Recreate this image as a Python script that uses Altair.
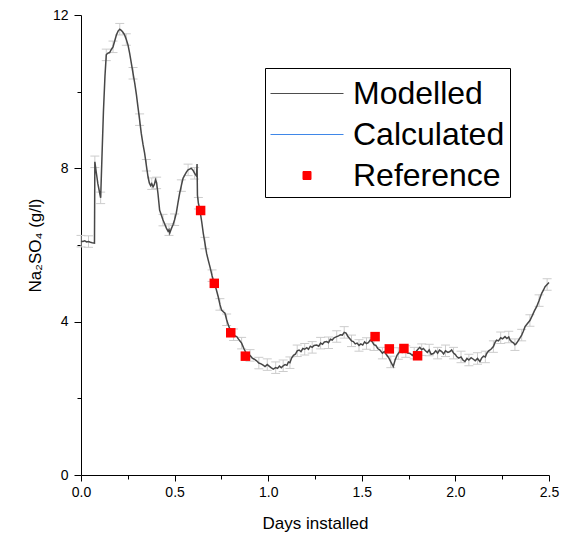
import altair as alt
import pandas as pd

# ---- data ----
model_days = [
    0.000, 0.010, 0.020, 0.030, 0.040, 0.050, 0.060, 0.072, 0.074, 0.080,
    0.090, 0.100, 0.105, 0.112, 0.120, 0.128, 0.135, 0.142, 0.153, 0.162,
    0.171, 0.180, 0.189, 0.198, 0.207, 0.215, 0.224, 0.233, 0.242, 0.251,
    0.260, 0.269, 0.278, 0.287, 0.296, 0.304, 0.313, 0.322, 0.331, 0.340,
    0.349, 0.358, 0.365, 0.372, 0.378, 0.385, 0.392, 0.398, 0.404, 0.411,
    0.420, 0.429, 0.438, 0.447, 0.456, 0.465, 0.470, 0.474, 0.482, 0.491,
    0.500, 0.509, 0.518, 0.527, 0.536, 0.545, 0.554, 0.563, 0.572, 0.580,
    0.589, 0.598, 0.607, 0.617, 0.620, 0.622, 0.627, 0.634, 0.645, 0.653,
    0.662, 0.671, 0.680, 0.689, 0.700, 0.712, 0.722, 0.733, 0.742, 0.751,
    0.760, 0.769, 0.778, 0.787, 0.796, 0.805, 0.815, 0.825, 0.832, 0.845,
    0.858, 0.870, 0.880, 0.892, 0.903, 0.915, 0.926, 0.938, 0.950, 0.962,
    0.975, 0.983, 0.995, 1.005, 1.015, 1.027, 1.040, 1.050, 1.060, 1.070,
    1.080, 1.090, 1.100, 1.108, 1.116, 1.125, 1.135, 1.145, 1.155, 1.165,
    1.175, 1.185, 1.195, 1.206, 1.215, 1.225, 1.235, 1.245, 1.259, 1.270,
    1.280, 1.290, 1.300, 1.312, 1.322, 1.332, 1.342, 1.352, 1.366, 1.376,
    1.386, 1.396, 1.406, 1.416, 1.425, 1.435, 1.445, 1.455, 1.465, 1.475,
    1.485, 1.495, 1.505, 1.515, 1.525, 1.535, 1.545, 1.555, 1.565, 1.575,
    1.585, 1.597, 1.610, 1.620, 1.633, 1.645, 1.655, 1.668, 1.678, 1.688,
    1.695, 1.705, 1.715, 1.725, 1.735, 1.745, 1.758, 1.770, 1.780, 1.790,
    1.800, 1.810, 1.820, 1.829, 1.840, 1.850, 1.860, 1.870, 1.883, 1.895,
    1.905, 1.915, 1.927, 1.937, 1.947, 1.960, 1.971, 1.980, 1.990, 2.000,
    2.007, 2.018, 2.030, 2.040, 2.051, 2.062, 2.072, 2.084, 2.096, 2.106,
    2.118, 2.131, 2.140, 2.150, 2.160, 2.167, 2.178, 2.190, 2.203, 2.212,
    2.220, 2.230, 2.242, 2.252, 2.265, 2.275, 2.285, 2.292, 2.300, 2.310,
    2.318, 2.324, 2.335, 2.345, 2.354, 2.363, 2.372, 2.385, 2.398, 2.410,
    2.422, 2.434, 2.447, 2.461, 2.470, 2.479, 2.490, 2.500,
]
model_values = [
    6.10, 6.09, 6.11, 6.08, 6.09, 6.07, 6.06, 6.05, 8.17, 7.95,
    7.60, 7.35, 7.23, 8.30, 9.50, 10.40, 10.96, 11.00, 11.02, 11.10,
    11.17, 11.32, 11.48, 11.58, 11.63, 11.60, 11.55, 11.48, 11.36, 11.22,
    11.00, 10.74, 10.48, 10.22, 9.92, 9.61, 9.27, 8.91, 8.63, 8.39,
    8.08, 7.78, 7.62, 7.55, 7.60, 7.52, 7.58, 7.70, 7.62, 7.35,
    6.91, 6.78, 6.65, 6.55, 6.44, 6.36, 6.40, 6.31, 6.42, 6.52,
    6.66, 6.83, 7.10, 7.35, 7.55, 7.74, 7.82, 7.90, 7.96, 7.98,
    8.00, 7.95, 7.87, 7.80, 8.11, 7.30, 7.09, 6.95, 6.60, 6.31,
    6.05, 5.78, 5.60, 5.43, 5.20, 5.00, 4.85, 4.65, 4.45, 4.30,
    4.26, 4.22, 4.05, 3.91, 3.80, 3.72, 3.66, 3.62, 3.61, 3.52,
    3.44, 3.30, 3.20, 3.14, 3.12, 3.05, 3.02, 2.98, 2.92, 2.90,
    2.86, 2.83, 2.88, 2.84, 2.80, 2.76, 2.80, 2.78, 2.84, 2.80,
    2.85, 2.88, 2.86, 2.95, 2.93, 3.05, 3.12, 3.15, 3.24, 3.26,
    3.22, 3.30, 3.28, 3.32, 3.28, 3.36, 3.33, 3.38, 3.39, 3.36,
    3.44, 3.41, 3.47, 3.48, 3.45, 3.54, 3.52, 3.58, 3.61, 3.63,
    3.66, 3.65, 3.72, 3.70, 3.62, 3.56, 3.50, 3.48, 3.42, 3.44,
    3.38, 3.42, 3.39, 3.47, 3.43, 3.45, 3.52, 3.48, 3.40, 3.38,
    3.30, 3.26, 3.18, 3.22, 3.13, 3.05, 2.95, 2.83, 3.00, 3.12,
    3.17, 3.24, 3.20, 3.28, 3.22, 3.18, 3.17, 3.12, 3.18, 3.22,
    3.28, 3.33, 3.27, 3.30, 3.24, 3.20, 3.26, 3.15, 3.17, 3.24,
    3.18, 3.26, 3.22, 3.16, 3.24, 3.20, 3.22, 3.26, 3.18, 3.14,
    3.09, 3.05, 3.08, 3.00, 2.96, 3.04, 3.00, 3.06, 3.02, 2.98,
    3.04, 2.96, 3.05, 3.10, 3.08, 3.17, 3.24, 3.28, 3.35, 3.46,
    3.52, 3.50, 3.58, 3.55, 3.61, 3.56, 3.60, 3.52, 3.48, 3.45,
    3.40, 3.42, 3.50, 3.58, 3.65, 3.75, 3.87, 3.95, 4.03, 4.15,
    4.28, 4.39, 4.55, 4.74, 4.82, 4.91, 4.97, 5.02,
]
error_half = 0.15  # half-height of the light-grey error bars (g/l)

ref_days = [0.639, 0.712, 0.800, 0.878, 1.571, 1.647, 1.725, 1.798]
ref_values = [6.90, 5.00, 3.71, 3.10, 3.61, 3.29, 3.30, 3.11]

series_names = ["Modelled", "Calculated", "Reference"]
series_colors = ["#4d4d4d", "#3f87e8", "#ff0000"]

x_ticks = [0.0, 0.25, 0.5, 0.75, 1.0, 1.25, 1.5, 1.75, 2.0, 2.25, 2.5]
y_ticks = [0, 2, 4, 6, 8, 10, 12]

# ---- tables ----
model_df = pd.DataFrame({"day": model_days, "value": model_values})
err_df = model_df.iloc[::4].copy()
err_df["lo"] = err_df["value"] - error_half
err_df["hi"] = err_df["value"] + error_half
ref_df = pd.DataFrame({"day": ref_days, "value": ref_values})
legend_df = pd.DataFrame({"series": series_names})

FONT = "Liberation Sans"

x_scale = alt.Scale(domain=[0, 2.5], nice=False, zero=False)
y_scale = alt.Scale(domain=[0, 12], nice=False)

x_axis = alt.Axis(
    title="Days installed",
    values=x_ticks,
    labelExpr="datum.value % 0.5 === 0 ? format(datum.value, '.1f') : ''",
    tickSize={"condition": {"test": "datum.value % 0.5 === 0", "value": 6}, "value": 4},
    grid=False,
    labelFontSize=14,
    titleFontSize=17,
    labelPadding=4,
    titlePadding=16,
    labelFlush=False,
)
y_axis = alt.Axis(
    title="Na₂SO₄ (g/l)",
    values=y_ticks,
    labelExpr="datum.value % 4 === 0 ? datum.label : ''",
    tickSize={"condition": {"test": "datum.value % 4 === 0", "value": 7}, "value": 4},
    grid=False,
    labelFontSize=14,
    titleFontSize=17,
    labelPadding=6,
    titlePadding=8,
)

X = alt.X("day:Q", scale=x_scale, axis=x_axis)
Y = alt.Y("value:Q", scale=y_scale, axis=y_axis)

err_rules = alt.Chart(err_df).mark_rule(color="#cccccc", strokeWidth=1).encode(
    x=alt.X("day:Q", scale=x_scale), y=alt.Y("lo:Q", scale=y_scale), y2="hi:Q"
)
err_caps_lo = alt.Chart(err_df).mark_tick(
    color="#cccccc", orient="horizontal", size=9, thickness=1, opacity=1
).encode(x=alt.X("day:Q", scale=x_scale), y=alt.Y("lo:Q", scale=y_scale))
err_caps_hi = alt.Chart(err_df).mark_tick(
    color="#cccccc", orient="horizontal", size=9, thickness=1, opacity=1
).encode(x=alt.X("day:Q", scale=x_scale), y=alt.Y("hi:Q", scale=y_scale))

line = alt.Chart(model_df).mark_line(color="#474747", strokeWidth=1.5).encode(
    x=X, y=Y, order="day:Q"
)

refs = alt.Chart(ref_df).mark_square(color="#ff0000", size=90, opacity=1).encode(
    x=alt.X("day:Q", scale=x_scale), y=alt.Y("value:Q", scale=y_scale)
)

line_path = "M-1,0L2.65,0"
square_path = "M0.625,-0.2H1.025V0.2H0.625Z"

legend = alt.Legend(
    title=None,
    orient="none",
    legendX=184,
    legendY=53,
    strokeColor="black",
    fillColor="white",
    padding=5,
    cornerRadius=0,
    symbolSize=1600,
    symbolStrokeWidth=1,
    symbolOpacity=1,
    labelFont=FONT,
    labelFontSize=32,
    labelColor="black",
    labelOffset=42,
    labelLimit=0,
    rowPadding=4,
)

legend_layer = alt.Chart(legend_df).mark_point(filled=False, size=1600, opacity=1).encode(
    color=alt.Color("series:N", scale=alt.Scale(domain=series_names, range=series_colors), legend=legend),
    fill=alt.Fill("series:N", scale=alt.Scale(domain=series_names, range=series_colors), legend=legend),
    shape=alt.Shape("series:N", scale=alt.Scale(domain=series_names, range=[line_path, line_path, square_path]), legend=legend),
).transform_filter("false")

chart = alt.layer(err_rules, err_caps_lo, err_caps_hi, line, refs, legend_layer).properties(
    width=468,
    height=460,
    padding={"left": 81, "top": 15, "right": 14, "bottom": 61},
    autosize=alt.AutoSizeParams(type="none"),
).configure_view(stroke=None).configure_axis(
    domainColor="black",
    tickColor="black",
    labelColor="black",
    titleColor="black",
    labelFont=FONT,
    titleFont=FONT,
    titleFontWeight="normal",
    domainWidth=1,
    tickWidth=1,
)

chart.save("out.html", embed_options={"renderer": "svg", "actions": False})
